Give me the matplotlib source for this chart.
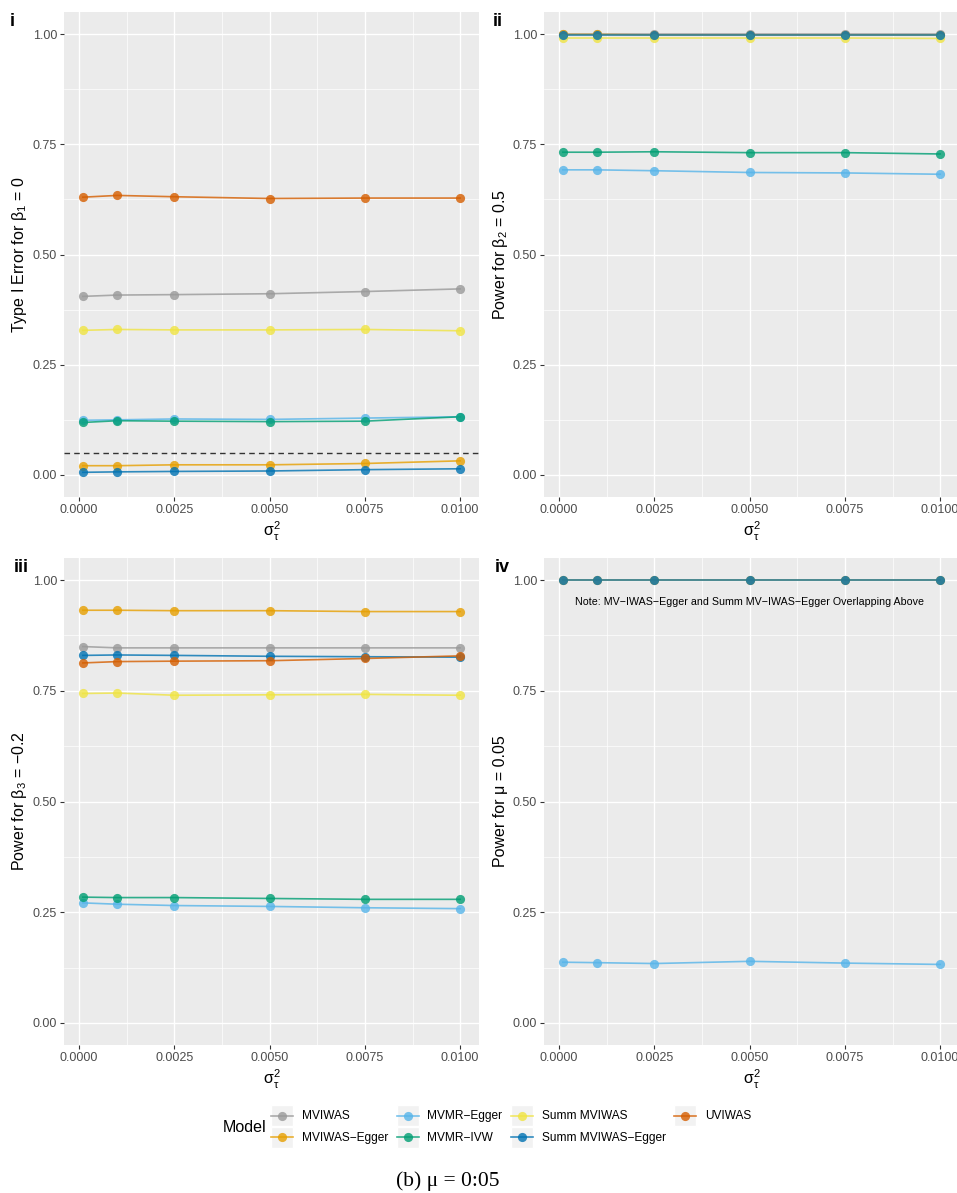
import numpy as np
import matplotlib
matplotlib.use('Agg')
import matplotlib.pyplot as plt
from matplotlib.patches import Rectangle
from matplotlib.lines import Line2D
from matplotlib.legend_handler import HandlerBase

plt.rcParams['font.family'] = ['Liberation Sans', 'DejaVu Sans']
plt.rcParams['mathtext.fontset'] = 'custom'
plt.rcParams['mathtext.rm'] = 'Liberation Sans'
plt.rcParams['mathtext.it'] = 'Liberation Sans:italic'

# sigma_tau^2 values
sigma2 = [0.0001, 0.001, 0.0025, 0.005, 0.0075, 0.01]

models = ['MVIWAS', 'MVIWAS\u2212Egger', 'MVMR\u2212Egger', 'MVMR\u2212IVW',
          'Summ MVIWAS', 'Summ MVIWAS\u2212Egger', 'UVIWAS']
colors = ['#999999', '#E69F00', '#56B4E9', '#009E73', '#F0E442', '#0072B2', '#D55E00']

# panel i: type I error for beta1 = 0
t1_mviwas      = [0.405, 0.408, 0.409, 0.411, 0.416, 0.422]
t1_mviwas_egg  = [0.021, 0.021, 0.023, 0.023, 0.026, 0.032]
t1_mvmr_egg    = [0.124, 0.125, 0.127, 0.126, 0.129, 0.132]
t1_mvmr_ivw    = [0.119, 0.123, 0.122, 0.121, 0.122, 0.132]
t1_summ        = [0.328, 0.330, 0.329, 0.329, 0.330, 0.327]
t1_summ_egg    = [0.006, 0.007, 0.008, 0.009, 0.012, 0.014]
t1_uviwas      = [0.630, 0.634, 0.631, 0.627, 0.628, 0.628]

# panel ii: power for beta2 = 0.5
p2_mviwas      = [0.999, 0.999, 0.999, 0.999, 0.999, 0.999]
p2_mviwas_egg  = [0.999, 0.999, 0.998, 0.998, 0.998, 0.998]
p2_mvmr_egg    = [0.692, 0.692, 0.690, 0.686, 0.685, 0.682]
p2_mvmr_ivw    = [0.732, 0.732, 0.733, 0.731, 0.731, 0.728]
p2_summ        = [0.991, 0.991, 0.991, 0.991, 0.991, 0.990]
p2_summ_egg    = [0.997, 0.997, 0.997, 0.997, 0.997, 0.997]

# panel iii: power for beta3 = -0.2
p3_mviwas      = [0.850, 0.847, 0.847, 0.847, 0.847, 0.847]
p3_mviwas_egg  = [0.932, 0.932, 0.931, 0.931, 0.929, 0.929]
p3_mvmr_egg    = [0.271, 0.268, 0.265, 0.263, 0.260, 0.258]
p3_mvmr_ivw    = [0.284, 0.283, 0.283, 0.281, 0.279, 0.279]
p3_summ        = [0.744, 0.745, 0.740, 0.741, 0.742, 0.740]
p3_summ_egg    = [0.830, 0.831, 0.830, 0.828, 0.827, 0.826]
p3_uviwas      = [0.813, 0.816, 0.817, 0.818, 0.823, 0.829]

# panel iv: power for mu = 0.05
pm_mviwas_egg  = [1.000, 1.000, 1.000, 1.000, 1.000, 1.000]
pm_mvmr_egg    = [0.137, 0.136, 0.134, 0.139, 0.135, 0.132]
pm_summ_egg    = [1.000, 1.000, 1.000, 1.000, 1.000, 1.000]

panels = [
    ('i', 'Type I Error for $\\mathrm{\\beta}_1$ = 0',
     {0: t1_mviwas, 1: t1_mviwas_egg, 2: t1_mvmr_egg, 3: t1_mvmr_ivw,
      4: t1_summ, 5: t1_summ_egg, 6: t1_uviwas}),
    ('ii', 'Power for $\\mathrm{\\beta}_2$ = 0.5',
     {0: p2_mviwas, 1: p2_mviwas_egg, 2: p2_mvmr_egg, 3: p2_mvmr_ivw,
      4: p2_summ, 5: p2_summ_egg}),
    ('iii', 'Power for $\\mathrm{\\beta}_3$ = \u22120.2',
     {0: p3_mviwas, 1: p3_mviwas_egg, 2: p3_mvmr_egg, 3: p3_mvmr_ivw,
      4: p3_summ, 5: p3_summ_egg, 6: p3_uviwas}),
    ('iv', 'Power for \u03bc = 0.05',
     {1: pm_mviwas_egg, 2: pm_mvmr_egg, 5: pm_summ_egg}),
]

ALPHA = 0.8
LW = 1.2
MS = 6.6


class KeyHandler(HandlerBase):
    # ggplot-like legend key: grey box, line across, point in the middle
    def create_artists(self, legend, orig_handle, xdescent, ydescent,
                       width, height, fontsize, trans):
        c = orig_handle.get_color()
        x0, y0 = -xdescent, -ydescent
        box = Rectangle((x0, y0), width, height, fc='#F2F2F2', ec='white',
                        lw=1, transform=trans)
        ym = y0 + height / 2
        ln = Line2D([x0, x0 + width], [ym, ym], color=c, alpha=ALPHA, lw=LW,
                    transform=trans)
        pt = Line2D([x0 + width / 2], [ym], ls='none', marker='o', ms=MS,
                    mec='none', color=c, alpha=ALPHA, transform=trans)
        return [box, ln, pt]


W, H = 957, 1193
fig = plt.figure(figsize=(W / 100, H / 100), dpi=100)

# panel boxes in pixels: left, top, right, bottom
boxes = [(64, 12, 479, 497), (544, 12, 959, 497),
         (64, 558, 479, 1045), (544, 558, 959, 1045)]
tag_x = [10, 493, 14, 495]

for (tag, ylab, series), (l, t, r, b), tx in zip(panels, boxes, tag_x):
    ax = fig.add_axes([l / W, 1 - b / H, (r - l) / W, (b - t) / H])
    ax.set_facecolor('#EBEBEB')
    for s in ax.spines.values():
        s.set_visible(False)
    ax.set_xlim(-0.000395, 0.010495)
    ax.set_ylim(-0.05, 1.05)
    ax.set_xticks([0, 0.0025, 0.005, 0.0075, 0.01])
    ax.set_xticklabels(['0.0000', '0.0025', '0.0050', '0.0075', '0.0100'])
    ax.set_xticks([0.00125, 0.00375, 0.00625, 0.00875], minor=True)
    ax.set_yticks([0, 0.25, 0.5, 0.75, 1.0])
    ax.set_yticklabels(['0.00', '0.25', '0.50', '0.75', '1.00'])
    ax.set_yticks([0.125, 0.375, 0.625, 0.875], minor=True)
    ax.grid(which='major', color='white', lw=1.0)
    ax.grid(which='minor', color='white', lw=0.5)
    ax.set_axisbelow(True)
    ax.tick_params(which='major', length=3, width=0.8, color='#333333',
                   labelcolor='#4D4D4D', labelsize=9, pad=2)
    ax.tick_params(which='minor', length=0)

    if tag == 'i':
        ax.axhline(0.05, color='#333333', lw=1.0, ls=(0, (4, 3)), zorder=1.5)

    # lines first, then points (ggplot layering)
    for k, vals in series.items():
        ax.plot(sigma2, vals, color=colors[k], alpha=ALPHA, lw=LW, zorder=2)
    for k, vals in series.items():
        ax.plot(sigma2, vals, ls='none', marker='o', ms=MS, mec='none',
                color=colors[k], alpha=ALPHA, zorder=3)

    if tag == 'iv':
        ax.text(0.005, 0.95,
                'Note: MV\u2212IWAS\u2212Egger and Summ MV\u2212IWAS\u2212Egger Overlapping Above',
                ha='center', va='center', fontsize=7.7, color='black')

    ax.set_xlabel('$\\mathrm{\\sigma}_{\\mathrm{\\tau}}^{2}$', fontsize=11.5, labelpad=3)
    fig.text((l - 44) / W, 1 - (t + b) / 2 / H, ylab, rotation=90,
             ha='center', va='center', fontsize=11.5)
    fig.text(tx / W, 1 - (t + 1) / H, tag, fontsize=13, fontweight='bold', va='top')

# legend
handles = [Line2D([], [], color=c) for c in colors]
fig.legend(handles, models, handler_map={Line2D: KeyHandler()},
           ncol=4, loc='upper left', bbox_to_anchor=(271 / W, 1 - 1105 / H),
           frameon=False, fontsize=8.6, handlelength=1.84, handleheight=2.35,
           handletextpad=0.75, columnspacing=0.7, labelspacing=0.05,
           borderpad=0, borderaxespad=0)
fig.text(223 / W, 1 - 1127 / H, 'Model', fontsize=11.5, va='center')

fig.text(448 / W, 1 - 1181 / H, '(b) \u03bc = 0:05', family='Liberation Serif',
         fontsize=15.5, ha='center', va='center')

fig.savefig('out.png', dpi=100)
